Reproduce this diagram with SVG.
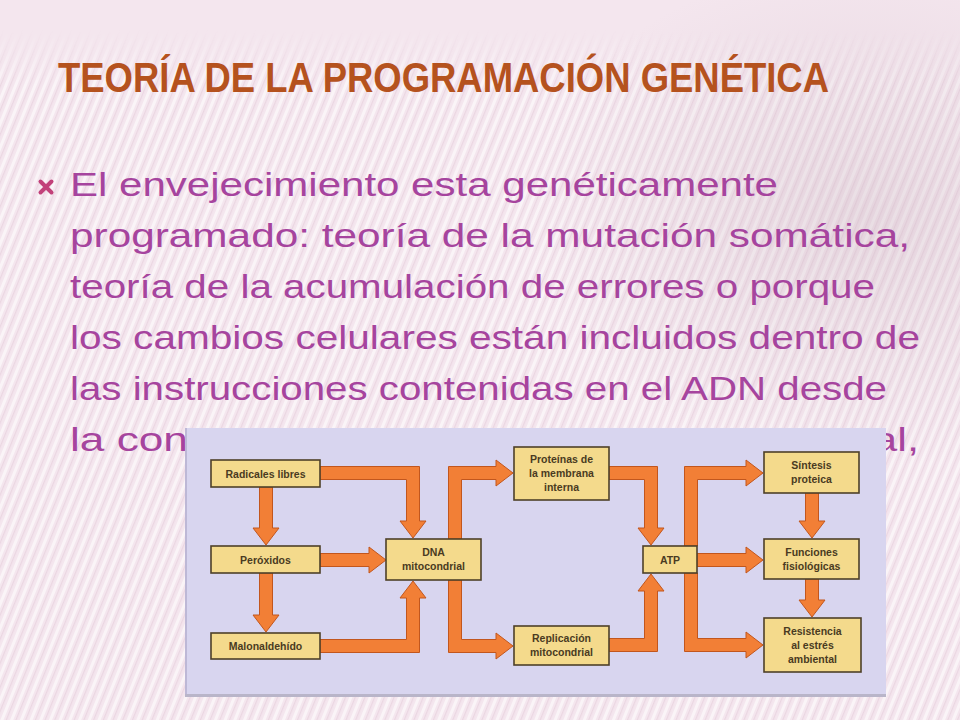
<svg xmlns="http://www.w3.org/2000/svg" width="960" height="720" viewBox="0 0 960 720">
<defs>
<pattern id="stripes" width="9" height="40" patternUnits="userSpaceOnUse" patternTransform="rotate(22)">
<rect x="0" y="0" width="3" height="40" fill="#ffffff" opacity="0.55"/>
<rect x="5" y="0" width="1.2" height="40" fill="#d9b9cb" opacity="0.35"/>
</pattern>
<linearGradient id="fadeTop" x1="0" y1="0" x2="0" y2="1">
<stop offset="0" stop-color="#fff" stop-opacity="0"/>
<stop offset="0.08" stop-color="#fff" stop-opacity="1"/>
<stop offset="1" stop-color="#fff" stop-opacity="1"/>
</linearGradient>
<mask id="stripeMask">
<rect x="0" y="30" width="960" height="690" fill="url(#fadeTop)"/>
</mask>
<radialGradient id="shade" cx="0.9" cy="0.3" r="0.35">
<stop offset="0" stop-color="#c9b3bf" stop-opacity="0.35"/>
<stop offset="1" stop-color="#c9b3bf" stop-opacity="0"/>
</radialGradient>
<linearGradient id="rule" x1="0" y1="0" x2="1" y2="0">
<stop offset="0" stop-color="#b8437f" stop-opacity="0.6"/>
<stop offset="0.3" stop-color="#b8437f"/>
<stop offset="1" stop-color="#a33a6e"/>
</linearGradient>
<style>
.title{font-family:"Liberation Sans",Arial,sans-serif;font-weight:bold;font-size:43px;fill:#b5521e}
.body{font-family:"Liberation Sans",Arial,sans-serif;font-size:34px;fill:#a6449e}
.box{fill:#f4da8c;stroke:#4e4028;stroke-width:1.6}
.lbl{font-family:"Liberation Sans",Arial,sans-serif;font-weight:bold;font-size:10.5px;fill:#4a3b22;text-anchor:middle}
.arr{fill:#f27f36;stroke:#c2561d;stroke-width:1;stroke-linejoin:miter}
</style>
</defs>

<!-- background -->
<rect x="0" y="0" width="960" height="720" fill="#f4e6ee"/>
<rect x="0" y="30" width="960" height="690" fill="url(#stripes)" mask="url(#stripeMask)"/>
<rect x="0" y="0" width="960" height="720" fill="url(#shade)"/>

<!-- title -->
<g id="title">
<text class="title" transform="translate(58,92) scale(0.848,1)" x="0" y="0">TEORÍA DE LA PROGRAMACIÓN GENÉTICA</text>
<line x1="62" y1="111" x2="960" y2="111" stroke="url(#rule)" stroke-width="1.8"/>
</g>

<!-- bullet text -->
<g id="bullet">
<path d="M40.5 181.5 L51.5 192.5 M51.5 181.5 L40.5 192.5" stroke="#c2417a" stroke-width="4" stroke-linecap="round"/>
<text class="body" x="70" y="196" textLength="708" lengthAdjust="spacingAndGlyphs">El envejecimiento esta genéticamente</text>
<text class="body" x="70" y="247" textLength="840" lengthAdjust="spacingAndGlyphs">programado: teoría de la mutación somática,</text>
<text class="body" x="70" y="298" textLength="805" lengthAdjust="spacingAndGlyphs">teoría de la acumulación de errores o porque</text>
<text class="body" x="70" y="349" textLength="850" lengthAdjust="spacingAndGlyphs">los cambios celulares están incluidos dentro de</text>
<text class="body" x="70" y="400" textLength="817" lengthAdjust="spacingAndGlyphs">las instrucciones contenidas en el ADN desde</text>
<text class="body" x="70" y="451" textLength="140" lengthAdjust="spacingAndGlyphs">la conc</text>
<text class="body" x="873" y="451" textLength="46" lengthAdjust="spacingAndGlyphs">al,</text>
</g>

<!-- diagram panel -->
<g id="panel">
<rect x="185" y="428" width="701" height="269" fill="#d8d5ef"/>
<rect x="185" y="428" width="2" height="269" fill="#bdb8d6"/>
<rect x="185" y="694" width="701" height="3" fill="#b9b5c9"/>
</g>

<!-- connectors -->
<g id="connectors">
<polygon class="arr" points="259.5,487 272.5,487 272.5,528 279,528 266,545 253,528 259.5,528"/>
<polygon class="arr" points="259.5,573 272.5,573 272.5,615 279,615 266,632 253,615 259.5,615"/>
<polygon class="arr" points="320,466.5 419.5,466.5 419.5,521 426,521 413,538 400,521 406.5,521 406.5,479.5 320,479.5"/>
<polygon class="arr" points="320,553.5 369,553.5 369,547 386,560 369,573 369,566.5 320,566.5"/>
<polygon class="arr" points="320,639.5 406.5,639.5 406.5,598 400,598 413,581 426,598 419.5,598 419.5,652.5 320,652.5"/>
<polygon class="arr" points="448.5,539 448.5,466.5 496,466.5 496,460 513,473 496,486 496,479.5 461.5,479.5 461.5,539"/>
<polygon class="arr" points="448.5,580 448.5,652.5 496,652.5 496,659 513,646 496,633 496,639.5 461.5,639.5 461.5,580"/>
<polygon class="arr" points="609,466.5 657.5,466.5 657.5,528 664,528 651,545 638,528 644.5,528 644.5,479.5 609,479.5"/>
<polygon class="arr" points="609,638.5 644.5,638.5 644.5,591 638,591 651,574 664,591 657.5,591 657.5,651.5 609,651.5"/>
<polygon class="arr" points="684.5,546 684.5,466.5 746,466.5 746,460 763,473 746,486 746,479.5 697.5,479.5 697.5,546"/>
<polygon class="arr" points="697,553.5 746,553.5 746,547 763,560 746,573 746,566.5 697,566.5"/>
<polygon class="arr" points="684.5,573 684.5,651.5 746,651.5 746,658 763,645 746,632 746,638.5 697.5,638.5 697.5,573"/>
<polygon class="arr" points="805.5,493 818.5,493 818.5,521 825,521 812,538 799,521 805.5,521"/>
<polygon class="arr" points="805.5,579 818.5,579 818.5,600 825,600 812,617 799,600 805.5,600"/>
</g>

<!-- nodes -->
<g id="n-radicales"><rect class="box" x="211" y="460" width="109" height="27"/><text class="lbl" x="265.5" y="477.5">Radicales libres</text></g>
<g id="n-peroxidos"><rect class="box" x="211" y="546" width="109" height="27"/><text class="lbl" x="265.5" y="563.5">Peróxidos</text></g>
<g id="n-malonaldehido"><rect class="box" x="211" y="633" width="109" height="26"/><text class="lbl" x="265.5" y="650">Malonaldehído</text></g>
<g id="n-dna"><rect class="box" x="386" y="539" width="95" height="41"/><text class="lbl" x="433.5" y="556">DNA</text><text class="lbl" x="433.5" y="570">mitocondrial</text></g>
<g id="n-proteinas"><rect class="box" x="514" y="447" width="95" height="53"/><text class="lbl" x="561.5" y="463">Proteínas de</text><text class="lbl" x="561.5" y="477">la membrana</text><text class="lbl" x="561.5" y="491">interna</text></g>
<g id="n-replicacion"><rect class="box" x="514" y="626" width="95" height="39"/><text class="lbl" x="561.5" y="642">Replicación</text><text class="lbl" x="561.5" y="656">mitocondrial</text></g>
<g id="n-atp"><rect class="box" x="643" y="546" width="54" height="27"/><text class="lbl" x="670" y="564">ATP</text></g>
<g id="n-sintesis"><rect class="box" x="764" y="452" width="95" height="41"/><text class="lbl" x="811.5" y="469">Síntesis</text><text class="lbl" x="811.5" y="483">proteica</text></g>
<g id="n-funciones"><rect class="box" x="764" y="539" width="95" height="40"/><text class="lbl" x="811.5" y="556">Funciones</text><text class="lbl" x="811.5" y="570">fisiológicas</text></g>
<g id="n-resistencia"><rect class="box" x="764" y="618" width="97" height="54"/><text class="lbl" x="812.5" y="635">Resistencia</text><text class="lbl" x="812.5" y="649">al estrés</text><text class="lbl" x="812.5" y="663">ambiental</text></g>
</svg>
